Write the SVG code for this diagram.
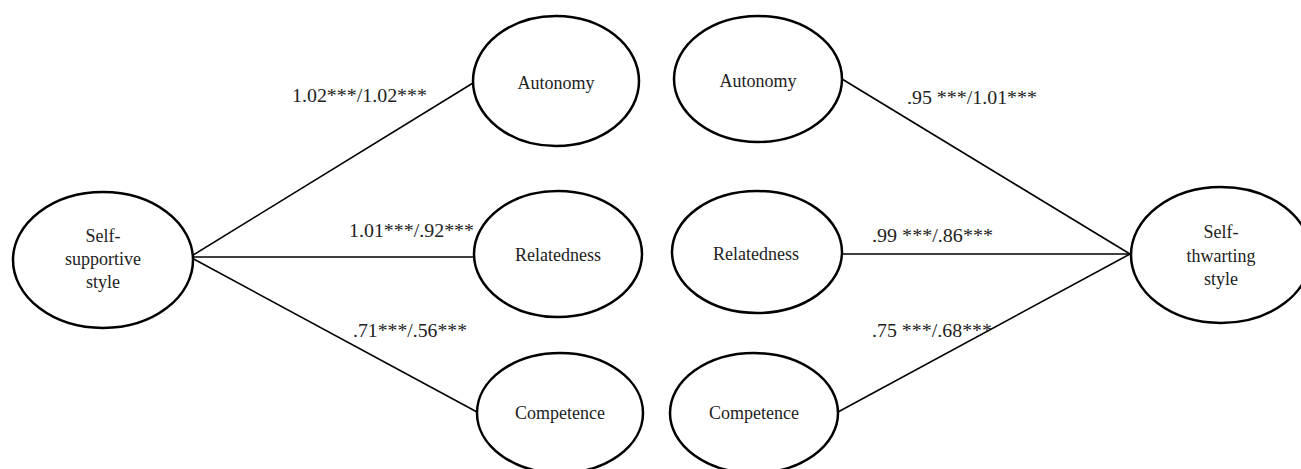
<svg xmlns="http://www.w3.org/2000/svg" width="1301" height="469" viewBox="0 0 1301 469">
<style>
.n{fill:#fff;stroke:#000;stroke-width:2.5}
.t{font-family:"Liberation Serif","Times New Roman",serif;font-size:18px;fill:#222;text-anchor:middle}
.l{font-family:"Liberation Serif","Times New Roman",serif;font-size:19.5px;fill:#222}
.c line{stroke:#000;stroke-width:1.6}
</style>
<rect width="1301" height="469" fill="#fff"/>
<g class="c" id="connectors">
<line x1="190" y1="257" x2="473" y2="83"/>
<line x1="190" y1="257" x2="474" y2="257"/>
<line x1="190" y1="257" x2="477" y2="412"/>
<line x1="842" y1="79" x2="1130" y2="254"/>
<line x1="842" y1="254" x2="1130" y2="254"/>
<line x1="838" y1="412" x2="1130" y2="254"/>
</g>
<g id="labels">
<text class="l" x="292" y="102" textLength="135" lengthAdjust="spacingAndGlyphs">1.02***/1.02***</text>
<text class="l" x="349" y="237" textLength="125" lengthAdjust="spacingAndGlyphs">1.01***/.92***</text>
<text class="l" x="353" y="337" textLength="114" lengthAdjust="spacingAndGlyphs">.71***/.56***</text>
<text class="l" x="907" y="104" textLength="130" lengthAdjust="spacingAndGlyphs">.95 ***/1.01***</text>
<text class="l" x="872" y="242" textLength="121" lengthAdjust="spacingAndGlyphs">.99 ***/.86***</text>
<text class="l" x="872" y="337" textLength="120" lengthAdjust="spacingAndGlyphs">.75 ***/.68***</text>
</g>
<g id="self-supportive">
<ellipse class="n" cx="103" cy="260" rx="90" ry="68"/>
<text class="t" x="103" y="242">Self-</text>
<text class="t" x="103" y="265">supportive</text>
<text class="t" x="103" y="288">style</text>
</g>
<g id="autonomy-left">
<ellipse class="n" cx="556" cy="81" rx="83" ry="65"/>
<text class="t" x="556" y="89">Autonomy</text>
</g>
<g id="relatedness-left">
<ellipse class="n" cx="558" cy="254" rx="84" ry="63"/>
<text class="t" x="558" y="261">Relatedness</text>
</g>
<g id="competence-left">
<ellipse class="n" cx="560" cy="413" rx="83" ry="60"/>
<text class="t" x="560" y="419">Competence</text>
</g>
<g id="autonomy-right">
<ellipse class="n" cx="758" cy="79" rx="84" ry="63"/>
<text class="t" x="758" y="87">Autonomy</text>
</g>
<g id="relatedness-right">
<ellipse class="n" cx="757" cy="252" rx="85" ry="61"/>
<text class="t" x="756" y="260">Relatedness</text>
</g>
<g id="competence-right">
<ellipse class="n" cx="754" cy="413" rx="84" ry="60"/>
<text class="t" x="754" y="419">Competence</text>
</g>
<g id="self-thwarting">
<ellipse class="n" cx="1221" cy="255" rx="90" ry="68"/>
<text class="t" x="1221" y="238">Self-</text>
<text class="t" x="1221" y="262">thwarting</text>
<text class="t" x="1221" y="285">style</text>
</g>
</svg>
